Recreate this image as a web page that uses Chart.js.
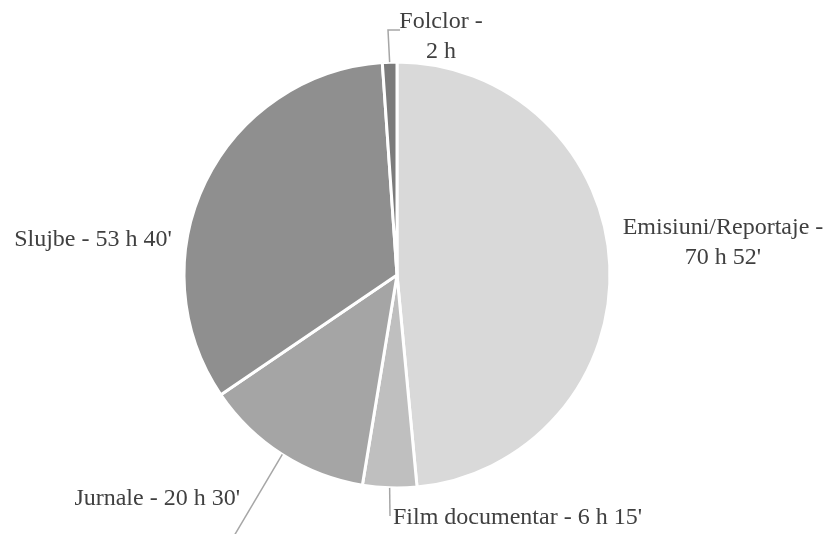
<!DOCTYPE html>
<html>
<head>
<meta charset="utf-8">
<script src="https://cdn.jsdelivr.net/npm/chart.js@4.4.1/dist/chart.umd.min.js"></script>
<style>
  html, body { margin: 0; padding: 0; background: #ffffff; }
  #pieChart { display: block; }
</style>
</head>
<body>
<canvas id="pieChart" width="828" height="534"></canvas>
<script>
// categories, as printed on the chart
const categories = ['Emisiuni/Reportaje', 'Film documentar', 'Jurnale', 'Slujbe', 'Folclor'];
// durations printed next to each slice
const durations = ["70 h 52'", "6 h 15'", "20 h 30'", "53 h 40'", "2 h"];
// slice shares (%)
const sliceShares = [48.5, 4.1, 12.9, 33.4, 1.1];
const sliceColors = ['#d9d9d9', '#bfbfbf', '#a5a5a5', '#8f8f8f', '#7b7b7b'];

// where each data label sits and how its leader line runs
const labelLayout = [
    { lines: [categories[0] + ' -', durations[0]], x: 723, y: 228, align: 'center', leader: null },
    { lines: [categories[1] + ' - ' + durations[1]], x: 393, y: 518, align: 'left', leader: [[390, 516]] },
    { lines: [categories[2] + ' - ' + durations[2]], x: 240, y: 499, align: 'right', leader: [[234, 536]] },
    { lines: [categories[3] + ' - ' + durations[3]], x: 93, y: 240, align: 'center', leader: null },
    { lines: [categories[4] + ' -', durations[4]], x: 441, y: 22, align: 'center', leader: [[388, 30], [400, 30]] }
];

const sliceLabels = {
    id: 'sliceLabels',
    afterDatasetsDraw(chart) {
        const ctx = chart.ctx;
        const arcs = chart.getDatasetMeta(0).data;
        ctx.save();
        arcs.forEach((arc, i) => {
            const lay = labelLayout[i];
            const mid = (arc.startAngle + arc.endAngle) / 2;
            const ex = arc.x + Math.cos(mid) * arc.outerRadius;
            const ey = arc.y + Math.sin(mid) * arc.outerRadius;
            if (lay.leader) {
                ctx.strokeStyle = '#a6a6a6';
                ctx.lineWidth = 1.5;
                ctx.beginPath();
                ctx.moveTo(ex, ey);
                lay.leader.forEach(p => ctx.lineTo(p[0], p[1]));
                ctx.stroke();
            }
            ctx.fillStyle = '#404040';
            ctx.font = '24px "Liberation Serif", "Times New Roman", serif';
            ctx.textAlign = lay.align;
            ctx.textBaseline = 'middle';
            lay.lines.forEach((line, k) => {
                ctx.fillText(line, lay.x, lay.y + k * 30);
            });
        });
        ctx.restore();
    }
};

new Chart(document.getElementById('pieChart').getContext('2d'), {
    type: 'pie',
    data: {
        labels: categories,
        datasets: [{
            data: sliceShares,
            backgroundColor: sliceColors,
            borderColor: '#ffffff',
            borderWidth: 3
        }]
    },
    options: {
        responsive: false,
        animation: false,
        layout: {
            padding: { left: 182.5, right: 216.5, top: 60.5, bottom: 44.5 }
        },
        plugins: {
            legend: { display: false },
            tooltip: { enabled: false }
        }
    },
    plugins: [sliceLabels]
});
</script>
</body>
</html>
